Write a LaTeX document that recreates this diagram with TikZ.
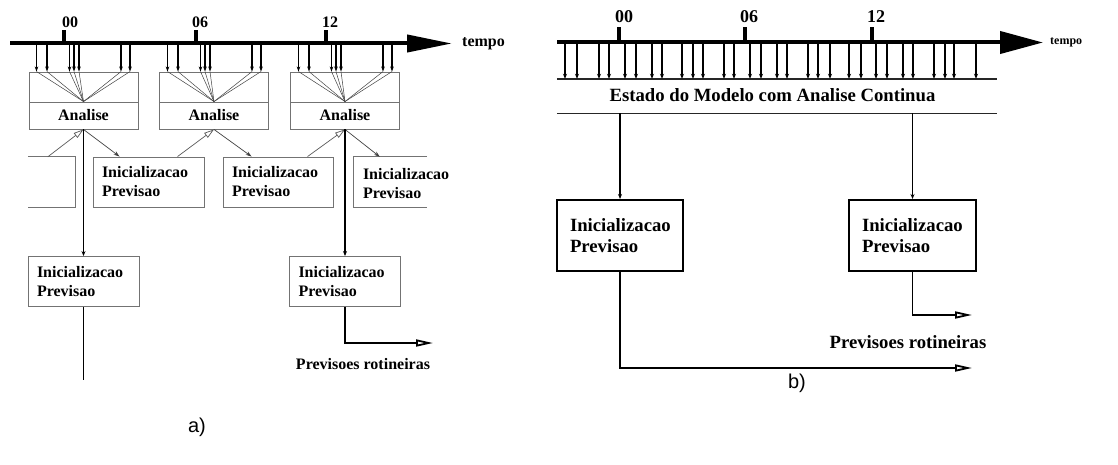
\documentclass[tikz,border=0pt]{standalone}
\usepackage{fontspec}
\setmainfont{Liberation Serif}
\newfontfamily\sflab{Liberation Sans}
\usetikzlibrary{arrows.meta}
\begin{document}
\begin{tikzpicture}[x=1pt,y=-1pt,
  axisa/.style={line width=4pt,-{Triangle[length=45pt,width=17pt]}},
  axisb/.style={line width=4pt,-{Triangle[length=43pt,width=22pt]}},
  tickm/.style={line width=3.5pt},
  ticklab/.style={font=\bfseries\fontsize{16}{18}\selectfont,inner sep=0pt},
  ticklabb/.style={font=\bfseries\fontsize{18}{20}\selectfont,inner sep=0pt},
  fa/.style={font=\bfseries\fontsize{16}{19}\selectfont},
  fb/.style={font=\bfseries\fontsize{18.7}{21}\selectfont},
  upbox/.style={draw=black!55,line width=0.9pt,minimum width=109pt,minimum height=30pt,inner sep=0pt},
  anbox/.style={draw=black!55,line width=0.9pt,minimum width=109pt,minimum height=27pt,inner sep=0pt,fa},
  pbox/.style={draw=black!55,line width=0.9pt,minimum height=50pt,inner xsep=9pt,inner ysep=0pt,align=left,text width=#1,fa},
  bbox/.style={draw=black,line width=2pt,minimum height=71pt,inner xsep=13pt,inner ysep=0pt,align=left,text width=#1,fb},
  openbox/.style={draw=black!55,line width=0.9pt},
  vin/.style={line width=1.1pt,-{Stealth[length=5pt,width=3.5pt]}},
  conv/.style={line width=0.5pt,draw=black!75},
  fromprev/.style={line width=0.7pt,draw=black!65,-{Triangle[open,length=10pt,width=6pt]}},
  toout/.style={line width=0.7pt,draw=black!75,-{Stealth[length=6pt,width=4pt]}},
  mainline/.style={line width=1.6pt},
  mainarr/.style={line width=1.6pt,-{Stealth[length=5pt,width=4pt]}},
  outarr/.style={line width=1.8pt,-{Triangle[open,length=17pt,width=7pt]}},
  vinb/.style={line width=1.4pt,-{Stealth[length=5pt,width=4pt]}},
  bline/.style={line width=1.6pt,draw=black!85},
]
\useasboundingbox (0,0) rectangle (1118,465);

% ================= panel a =================
\coordinate (axa0) at (10,43.5);
\coordinate (axa1) at (452,43.5);
\draw[axisa] (axa0) -- (axa1);
\node[fa,anchor=west,inner sep=0pt] (tempoa) at (462,43.5) {tempo};
\foreach \n/\x/\lx in {00/64/70,06/196/200,12/326/330}{
  \coordinate (ka\n) at (\x,43.5);
  \draw[tickm] (ka\n) -- ++(0,-13);
  \node[ticklab] (la\n) at (\lx,22) {\n};
}

\foreach \b/\c in {1/83.5,2/214,3/345}{
  \node[upbox] (up\b) at (\c,87) {};
  \node[anbox] (an\b) at (\c,115.5) {Analise};
}
\foreach \b/\L in {1/29,2/160,3/291}{
  \foreach \o [count=\k] in {7.5,18,40.5,45,50,92,101}{
    \coordinate (ta\b\k) at (\L+\o,45);
    \draw[vin] (ta\b\k) -- (ta\b\k |- up\b.north);
    \draw[conv] (ta\b\k |- up\b.north) -- (an\b.north);
  }
}

% second row
\node[minimum width=47pt,minimum height=50pt,inner sep=0pt] (p0) at (51.5,182) {};
\draw[openbox] (p0.north west) -- (p0.north east) -- (p0.south east) -- (p0.south west);
\node[pbox=93pt] (a2) at (148.5,182) {Inicializacao\\Previsao};
\node[pbox=92pt] (a3) at (278,182) {Inicializacao\\Previsao};
\node[minimum width=73pt,minimum height=50pt,inner sep=0pt] (a4) at (390.5,182) {};
\draw[openbox] (a4.north east) -- (a4.north west) -- (a4.south west) -- (a4.south east);
\node[fa,anchor=west,align=left,inner sep=0pt] (a4t) at ([xshift=9pt,yshift=-1.5pt]a4.west) {Inicializacao\\Previsao};

\draw[fromprev] ([xshift=20pt]p0.north west) -- (an1.south);
\draw[fromprev] ([xshift=85pt]a2.north west) -- (an2.south);
\draw[fromprev] ([xshift=85pt]a3.north west) -- (an3.south);
\draw[toout] (an1.south) -- ([xshift=27pt]a2.north west);
\draw[toout] (an2.south) -- ([xshift=29pt]a3.north west);
\draw[toout] (an3.south) -- ([xshift=26pt]a4.north west);

% third row
\node[pbox=93pt] (a5) at (83.5,281.5) {Inicializacao\\Previsao};
\node[pbox=93pt] (a6) at (345,281.5) {Inicializacao\\Previsao};
\coordinate (enda) at (83.5,380);
\coordinate (outa) at (433,343);
\draw[mainarr] (an1.south) -- (a5.north);
\draw[mainline] (a5.south) -- (enda);
\draw[mainarr] (an3.south) -- (a6.north);
\draw[outarr] (a6.south) |- (outa);
\node[fa,inner sep=0pt] (pra) at (363,364) {Previsoes rotineiras};

\node[font=\sflab\fontsize{20}{22}\selectfont,inner sep=0pt] (capa) at (197,427) {a)};

% ================= panel b =================
\coordinate (axb0) at (557,42.5);
\coordinate (axb1) at (1043,42.5);
\draw[axisb] (axb0) -- (axb1);
\node[font=\bfseries\fontsize{12}{14}\selectfont,anchor=west,inner sep=0pt] (tempob) at (1050,42.5) {tempo};
\foreach \n/\x/\lx in {00/619/624,06/745/749,12/872/876}{
  \coordinate (kb\n) at (\x,42.5);
  \draw[tickm] (kb\n) -- ++(0,-15);
  \node[ticklabb] (lb\n) at (\lx,17) {\n};
}
\node[minimum width=440pt,minimum height=34pt,inner sep=0pt] (est) at (777,96) {};
\node[fb,inner sep=0pt] (estt) at (772.5,95) {Estado do Modelo com Analise Continua};
\draw[bline] (est.north west) -- (est.north east);
\draw[bline,line width=1.3pt] (est.south west) -- (est.south east);
\foreach \x [count=\k] in {565,577,599,609,625,636,652,662,682,693,703,724,734,750,761,777,787,808,818,830,849,861,876,887,903,913,934,945,954,976}{
  \coordinate (tb\k) at (\x,44);
  \draw[vinb] (tb\k) -- (tb\k |- est.north);
}
\node[bbox=100pt] (b1) at (620,235.5) {Inicializacao\\Previsao};
\node[bbox=101pt] (b2) at (912.5,235.5) {Inicializacao\\Previsao};
\draw[mainarr] (b1.north |- est.south) -- (b1.north);
\draw[mainarr] (b2.north |- est.south) -- (b2.north);
\coordinate (outb1) at (972,368);
\coordinate (outb2) at (972,315);
\draw[outarr] (b1.south) |- (outb1);
\draw[outarr] (b2.south) |- (outb2);
\node[fb,inner sep=0pt] (prb) at (908,342) {Previsoes rotineiras};

\node[font=\sflab\fontsize{20}{22}\selectfont,inner sep=0pt] (capb) at (797,383) {b)};
\end{tikzpicture}
\end{document}
